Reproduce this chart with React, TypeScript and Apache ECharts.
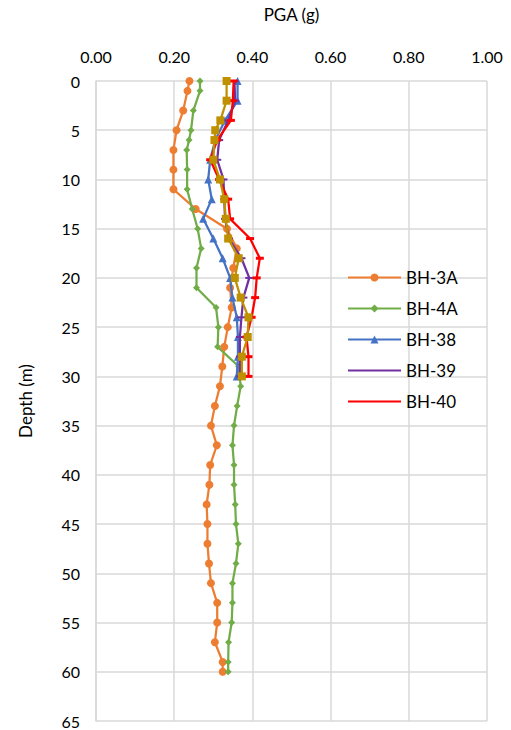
import React, { useEffect, useRef } from "react";
import * as echarts from "echarts";

// Depth (m) of each reading
const depthBH3A = [0, 1, 3, 5, 7, 9, 11, 13, 15, 17, 19, 21, 23, 25, 27, 29, 31, 33, 35, 37, 39, 41, 43, 45, 47, 49, 51, 53, 55, 57, 59, 60];
const pgaBH3A = [0.239, 0.234, 0.223, 0.206, 0.198, 0.198, 0.198, 0.255, 0.335, 0.36, 0.351, 0.343, 0.347, 0.337, 0.328, 0.323, 0.317, 0.304, 0.294, 0.309, 0.292, 0.29, 0.283, 0.285, 0.285, 0.289, 0.294, 0.31, 0.31, 0.304, 0.324, 0.324];

const depthBH4A = [0, 1, 3, 5, 6, 7, 9, 11, 13, 15, 17, 19, 21, 23, 25, 27, 29, 31, 33, 35, 37, 39, 41, 43, 45, 47, 49, 51, 53, 55, 57, 59, 60];
const pgaBH4A = [0.266, 0.266, 0.249, 0.243, 0.238, 0.232, 0.233, 0.233, 0.246, 0.26, 0.269, 0.257, 0.257, 0.307, 0.313, 0.311, 0.365, 0.37, 0.361, 0.353, 0.349, 0.353, 0.353, 0.356, 0.358, 0.364, 0.358, 0.349, 0.349, 0.347, 0.339, 0.338, 0.338];

const depthBH38 = [0, 2, 4, 6, 8, 10, 12, 14, 16, 18, 20, 22, 24, 26, 28, 30];
const pgaBH38 = [0.362, 0.362, 0.33, 0.305, 0.292, 0.287, 0.296, 0.274, 0.3, 0.324, 0.343, 0.349, 0.36, 0.363, 0.363, 0.36];

const depthBH39 = [0, 2, 4, 6, 8, 10, 12, 14, 16, 18, 20, 22, 24, 26, 28, 30];
const pgaBH39 = [0.354, 0.356, 0.338, 0.315, 0.31, 0.326, 0.328, 0.33, 0.34, 0.372, 0.392, 0.377, 0.372, 0.368, 0.368, 0.368];

const depthBH40 = [0, 2, 4, 6, 8, 10, 12, 14, 16, 18, 20, 22, 24, 26, 28, 30];
const pgaBH40 = [0.352, 0.35, 0.345, 0.31, 0.292, 0.315, 0.338, 0.343, 0.394, 0.419, 0.411, 0.407, 0.398, 0.385, 0.39, 0.39];

const depthExtra = [0, 2, 4, 5, 6, 8, 10, 12, 14, 16, 18, 20, 22, 24, 26, 28, 30];
const pgaExtra = [0.334, 0.334, 0.318, 0.305, 0.303, 0.3, 0.317, 0.328, 0.332, 0.338, 0.365, 0.355, 0.37, 0.39, 0.388, 0.373, 0.373];

const legendNames = ["BH-3A", "BH-4A", "BH-38", "BH-39", "BH-40"];
// Borehole series whose markers are thin dashes; the legend shows only their line
const dashMarked = ["BH-39", "BH-40"];

const FONT = "Lato, 'Open Sans', sans-serif";

function pairs(pga: number[], depth: number[]) {
  return pga.map((p, i) => [p, depth[i]]);
}

export default function App() {
  const ref = useRef<HTMLDivElement>(null);

  useEffect(() => {
    if (!ref.current) return;
    const chart = echarts.init(ref.current, undefined, { renderer: "svg" });

    const line = (name: string, data: number[][], color: string, symbol: string, symbolSize: any, z: number) => ({
      name,
      type: "line",
      data,
      symbol,
      symbolSize,
      z,
      itemStyle: { color },
      lineStyle: { color, width: 2.25 },
    });

    chart.setOption({
      animation: false,
      backgroundColor: "#ffffff",
      textStyle: { fontFamily: FONT },
      grid: { left: 96, right: 24, top: 81, bottom: 9, containLabel: false },
      xAxis: {
        type: "value",
        position: "top",
        min: 0,
        max: 1,
        interval: 0.2,
        name: "PGA (g)",
        nameLocation: "middle",
        nameGap: 58,
        nameTextStyle: { fontSize: 17, color: "#000", fontFamily: FONT },
        axisLine: { show: false },
        axisTick: { show: false },
        axisLabel: {
          fontSize: 16,
          color: "#000",
          margin: 17,
          fontFamily: FONT,
          formatter: (v: number) => v.toFixed(2),
        },
        splitLine: { show: true, lineStyle: { color: "#d9d9d9", width: 1.5 } },
      },
      yAxis: {
        type: "value",
        inverse: true,
        min: 0,
        max: 65,
        interval: 5,
        name: "Depth (m)",
        nameLocation: "middle",
        nameGap: 62,
        nameRotate: 90,
        nameTextStyle: { fontSize: 17, color: "#000", fontFamily: FONT },
        axisLine: { show: true, lineStyle: { color: "#d9d9d9", width: 1.5 } },
        axisTick: { show: false },
        axisLabel: { fontSize: 16, color: "#000", margin: 16, fontFamily: FONT },
        splitLine: { show: true, lineStyle: { color: "#d9d9d9", width: 1.5 } },
      },
      legend: {
        data: legendNames.map((n) =>
          dashMarked.includes(n) ? { name: n, itemStyle: { opacity: 0 } } : { name: n }
        ),
        orient: "vertical",
        left: 342,
        top: 264,
        itemWidth: 53,
        itemHeight: 10,
        itemGap: 14,
        textStyle: { fontSize: 17, color: "#000", fontFamily: FONT },
      },
      series: [
        line("BH-3A", pairs(pgaBH3A, depthBH3A), "#ED7D31", "circle", 8, 3),
        line("BH-4A", pairs(pgaBH4A, depthBH4A), "#70AD47", "diamond", 7, 3),
        line("BH-38", pairs(pgaBH38, depthBH38), "#4472C4", "triangle", 8, 4),
        line("BH-39", pairs(pgaBH39, depthBH39), "#7030A0", "rect", [8, 2], 5),
        line("BH-40", pairs(pgaBH40, depthBH40), "#FF0000", "rect", [8, 3], 6),
        line("BH-41", pairs(pgaExtra, depthExtra), "#BF9000", "rect", 8, 7),
      ],
    });

    return () => chart.dispose();
  }, []);

  return <div ref={ref} style={{ width: 511, height: 730, position: "absolute", left: 0, top: 0 }} />;
}
